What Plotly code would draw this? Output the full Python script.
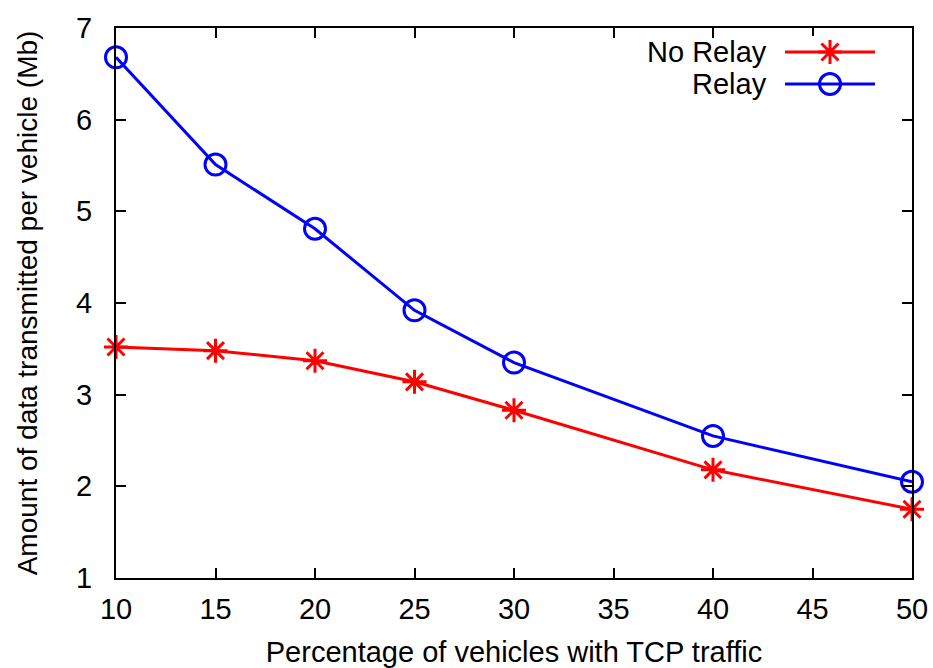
import plotly.graph_objects as go

# Percentage of vehicles carrying TCP traffic
pct_tcp = [10, 15, 20, 25, 30, 40, 50]
# Data transmitted per vehicle (Mb)
no_relay = [3.52, 3.48, 3.37, 3.14, 2.83, 2.18, 1.75]
relay = [6.68, 5.51, 4.81, 3.92, 3.35, 2.55, 2.05]

series_names = ["No Relay", "Relay"]
series_colors = ["#ff0000", "#0000ff"]
series_symbols = ["asterisk-open", "circle-open"]
series_values = [no_relay, relay]

x_ticks = [10, 15, 20, 25, 30, 35, 40, 45, 50]
y_ticks = [1, 2, 3, 4, 5, 6, 7]

FONT = "Liberation Sans, Arial, Helvetica, sans-serif"
LW = 3


def marker_for(sym, color):
    return dict(symbol=sym, size=21 if sym == "circle-open" else 20,
                color=color, line=dict(color=color, width=LW))


fig = go.Figure()

for name, color, sym, vals in zip(series_names, series_colors, series_symbols, series_values):
    fig.add_trace(go.Scatter(
        x=pct_tcp, y=vals, name=name, mode="lines+markers",
        line=dict(color=color, width=LW),
        marker=marker_for(sym, color),
        showlegend=False, cliponaxis=False,
    ))

# Key: text on the left, line sample with marker on the right (gnuplot style)
key_rows = [0.75, 0.25]
for name, color, sym, row in zip(series_names, series_colors, series_symbols, key_rows):
    fig.add_trace(go.Scatter(
        x=[0, 0.5, 1], y=[row, row, row], mode="lines",
        line=dict(color=color, width=LW), xaxis="x2", yaxis="y2",
        showlegend=False, hoverinfo="skip",
    ))
    fig.add_trace(go.Scatter(
        x=[0.5], y=[row], mode="markers",
        marker=marker_for(sym, color),
        xaxis="x2", yaxis="y2", showlegend=False, hoverinfo="skip",
    ))
    fig.add_annotation(
        x=0, y=row, xref="x2", yref="y2", text=name, showarrow=False,
        xanchor="right", yanchor="middle", xshift=-16,
        font=dict(family=FONT, size=29, color="black"),
    )

W, H = 933, 668
ml, mr, mt, mb = 116, 21, 28, 90
pw, ph = W - ml - mr, H - mt - mb


def px_x(px):
    return (px - ml) / pw


def px_y(py):
    return 1 - (py - mt) / ph


axis_common = dict(
    showline=True, linecolor="black", linewidth=2, mirror="ticks",
    ticks="inside", ticklen=10, tickwidth=1.5, tickcolor="black",
    showgrid=False, zeroline=False, automargin=False,
    tickfont=dict(family=FONT, size=29, color="black"),
)

fig.update_layout(
    width=W, height=H,
    margin=dict(l=ml, r=mr, t=mt, b=mb, autoexpand=False),
    paper_bgcolor="white", plot_bgcolor="white",
    xaxis=dict(range=[10, 50], tickvals=x_ticks, ticklabelstandoff=4,
               title=dict(text="Percentage of vehicles with TCP traffic",
                          font=dict(family=FONT, size=29, color="black"),
                          standoff=24),
               **axis_common),
    yaxis=dict(range=[1, 7], tickvals=y_ticks, ticklabelstandoff=16,
               title=dict(text="Amount of data transmitted per vehicle (Mb)",
                          font=dict(family=FONT, size=28, color="black"),
                          standoff=30),
               **axis_common),
    xaxis2=dict(domain=[px_x(785), px_x(875)], range=[0, 1], visible=False,
                anchor="y2", fixedrange=True),
    yaxis2=dict(domain=[px_y(100), px_y(36)], range=[0, 1], visible=False,
                anchor="x2", fixedrange=True),
    showlegend=False,
)

fig.write_html("out.html")
